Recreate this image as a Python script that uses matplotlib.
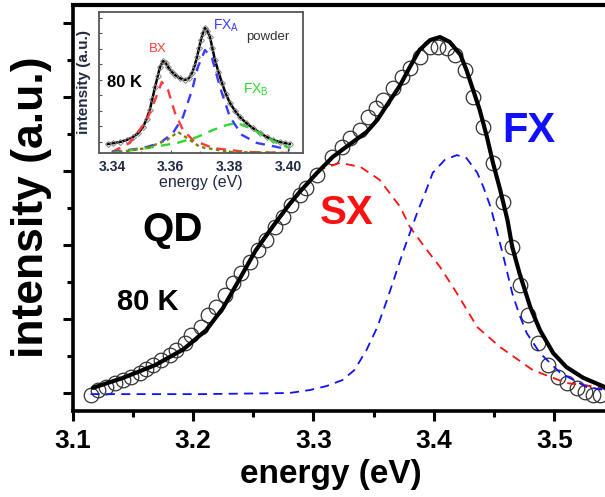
import matplotlib
matplotlib.use("Agg")
import matplotlib.pyplot as plt

plt.rcParams['font.family'] = ['Liberation Sans', 'DejaVu Sans']

# main spectrum (QD, 80 K) - energy in eV, intensity in arb. units
data_E = [3.1154, 3.1212, 3.1278, 3.1353, 3.1419, 3.1485, 3.1560, 3.1610, 3.1668, 3.1734,
          3.1809, 3.1859, 3.1934, 3.1983, 3.2066, 3.2124, 3.2191, 3.2266, 3.2332, 3.2398,
          3.2473, 3.2539, 3.2606, 3.2680, 3.2747, 3.2813, 3.2888, 3.2938, 3.3029, 3.3154,
          3.3237, 3.3303, 3.3386, 3.3452, 3.3519, 3.3577, 3.3660, 3.3734, 3.3801, 3.3884,
          3.3967, 3.4033, 3.4108, 3.4174, 3.4257, 3.4324, 3.4407, 3.4490, 3.4573, 3.4647,
          3.4714, 3.4780, 3.4863, 3.4946, 3.5029, 3.5104, 3.5187, 3.5253, 3.5320, 3.5378]
data_I = [-0.05, 0.08, 0.16, 0.27, 0.35, 0.43, 0.54, 0.65, 0.76, 0.89,
          1.03, 1.16, 1.35, 1.57, 1.78, 2.11, 2.32, 2.65, 2.97, 3.24,
          3.54, 3.87, 4.14, 4.49, 4.76, 5.08, 5.35, 5.54, 5.89, 6.38,
          6.65, 6.89, 7.11, 7.46, 7.70, 7.92, 8.24, 8.54, 8.78, 9.08,
          9.35, 9.35, 9.32, 9.14, 8.73, 8.00, 7.19, 6.22, 5.16, 3.95,
          2.92, 2.11, 1.35, 0.76, 0.43, 0.27, 0.14, 0.03, -0.05, -0.05]

fit_E = [3.117, 3.142, 3.169, 3.192, 3.211, 3.225, 3.239, 3.252, 3.266, 3.280,
         3.289, 3.303, 3.316, 3.330, 3.344, 3.353, 3.361, 3.372, 3.380, 3.388,
         3.397, 3.405, 3.413, 3.422, 3.427, 3.432, 3.438, 3.444, 3.449, 3.455,
         3.461, 3.465, 3.471, 3.480, 3.488, 3.499, 3.510, 3.524, 3.542]
fit_I = [0.14, 0.41, 0.76, 1.18, 1.70, 2.30, 3.10, 3.85, 4.49, 5.10,
         5.45, 5.95, 6.38, 6.72, 7.05, 7.38, 7.78, 8.32, 8.81, 9.27,
         9.54, 9.62, 9.49, 9.14, 8.73, 8.24, 7.65, 6.92, 6.22, 5.49,
         4.68, 3.95, 3.24, 2.32, 1.70, 1.08, 0.70, 0.41, 0.16]

sx_E = [3.117, 3.142, 3.169, 3.192, 3.211, 3.225, 3.239, 3.252, 3.266, 3.280,
        3.289, 3.305, 3.322, 3.339, 3.355, 3.372, 3.380, 3.394, 3.405, 3.419,
        3.436, 3.455, 3.482, 3.510, 3.542]
sx_I = [0.14, 0.41, 0.76, 1.16, 1.68, 2.30, 3.08, 3.81, 4.46, 5.05,
        5.43, 6.03, 6.22, 6.11, 5.76, 5.03, 4.49, 3.87, 3.41, 2.70,
        1.78, 1.24, 0.62, 0.27, 0.14]

fx_E = [3.115, 3.206, 3.280, 3.297, 3.311, 3.324, 3.334, 3.344, 3.353, 3.361,
        3.368, 3.374, 3.386, 3.393, 3.399, 3.409, 3.419, 3.427, 3.436, 3.441,
        3.447, 3.452, 3.457, 3.465, 3.471, 3.477, 3.488, 3.505, 3.527, 3.542]
fx_I = [-0.03, -0.03, 0.0, 0.08, 0.19, 0.35, 0.62, 1.16, 1.78, 2.51,
        3.19, 3.78, 4.86, 5.43, 5.95, 6.30, 6.43, 6.35, 5.95, 5.57,
        5.03, 4.41, 3.78, 2.70, 2.11, 1.62, 1.08, 0.54, 0.16, 0.08]

main_xticks = [3.1, 3.2, 3.3, 3.4, 3.5]
main_xticklabels = ['3.1', '3.2', '3.3', '3.4', '3.5']

# inset: powder, 80 K
in_E = [3.3386, 3.3405, 3.3427, 3.3450, 3.3472, 3.3490, 3.3506, 3.3518, 3.3529, 3.3538,
        3.3547, 3.3556, 3.3564, 3.3574, 3.3583, 3.3591, 3.3603, 3.3615, 3.3632, 3.3649,
        3.3662, 3.3673, 3.3682, 3.3690, 3.3697, 3.3703, 3.3710, 3.3717, 3.3725, 3.3734,
        3.3742, 3.3751, 3.3763, 3.3775, 3.3788, 3.3802, 3.3819, 3.3836, 3.3858, 3.3880,
        3.3904, 3.3928, 3.3950, 3.3972, 3.3990, 3.4006]
in_I = [0.064, 0.070, 0.078, 0.092, 0.113, 0.142, 0.184, 0.240, 0.305, 0.385,
        0.468, 0.545, 0.610, 0.652, 0.640, 0.610, 0.578, 0.553, 0.530, 0.518,
        0.530, 0.567, 0.620, 0.681, 0.745, 0.801, 0.850, 0.887, 0.865, 0.823,
        0.745, 0.660, 0.575, 0.496, 0.420, 0.355, 0.300, 0.255, 0.212, 0.177,
        0.142, 0.113, 0.092, 0.078, 0.070, 0.064]

bx_E = [3.3400, 3.3461, 3.3519, 3.3547, 3.3570, 3.3591, 3.3615, 3.3642, 3.3676, 3.3744, 3.3860, 3.4006]
bx_I = [0.007, 0.071, 0.234, 0.376, 0.504, 0.447, 0.284, 0.163, 0.092, 0.035, 0.007, 0.0]

fxa_E = [3.3400, 3.3506, 3.3564, 3.3608, 3.3642, 3.3673, 3.3693, 3.3717, 3.3741, 3.3768,
         3.3802, 3.3843, 3.3894, 3.3962, 3.4006]
fxa_I = [0.007, 0.035, 0.071, 0.142, 0.255, 0.447, 0.610, 0.730, 0.674, 0.468,
         0.255, 0.128, 0.071, 0.043, 0.021]

fxb_E = [3.3400, 3.3519, 3.3622, 3.3690, 3.3744, 3.3792, 3.3826, 3.3870, 3.3915, 3.3962, 3.4006]
fxb_I = [0.0, 0.035, 0.071, 0.113, 0.163, 0.199, 0.213, 0.177, 0.128, 0.071, 0.035]

ol_E = [3.3400, 3.3519, 3.3587, 3.3625, 3.3656, 3.3700, 3.3802, 3.4006]
ol_I = [0.0, 0.035, 0.092, 0.149, 0.106, 0.043, 0.007, 0.0]

inset_xticks = [3.34, 3.36, 3.38, 3.40]
inset_xticklabels = ['3.34', '3.36', '3.38', '3.40']

W, H = 605, 497
fig = plt.figure(figsize=(W / 100, H / 100), dpi=100)

ax = fig.add_axes([72.5 / W, (H - 411) / H, (W - 72.5) / W, 406 / H])
ax.plot(data_E, data_I, 'o', ms=10.5, mfc='none', mec='#333333', mew=0.9, zorder=2)
ax.plot(sx_E, sx_I, color='#ff1010', lw=1.3, ls=(0, (5, 3.5)), zorder=3)
ax.plot(fx_E, fx_I, color='#1010ff', lw=1.3, ls=(0, (5, 3.5)), zorder=3)
ax.plot(fit_E, fit_I, color='black', lw=3.0, zorder=4,
        solid_capstyle='round', solid_joinstyle='round')

ax.set_xlim(3.1, 3.542)
ax.set_ylim(-0.486, 10.486)
ax.set_xticks(main_xticks)
ax.set_xticklabels(main_xticklabels)
ax.set_xticks([3.15, 3.25, 3.35, 3.45], minor=True)
ax.set_yticks([0, 2, 4, 6, 8, 10])
ax.set_yticks([1, 3, 5, 7, 9], minor=True)
ax.set_yticklabels([])
ax.tick_params(which='major', direction='out', length=7, width=2.2, labelsize=19, pad=6)
ax.tick_params(which='minor', direction='out', length=4, width=2.2)
for lab in ax.get_xticklabels():
    lab.set_fontweight('bold')
ax.spines['right'].set_visible(False)
ax.spines['left'].set_linewidth(2.6)
ax.spines['bottom'].set_linewidth(2.6)
ax.spines['top'].set_linewidth(3.0)

fig.text(331 / W, 1 - 474 / H, 'energy (eV)', fontsize=24, fontweight='bold',
         ha='center', va='center')
fig.text(32 / W, 1 - 207 / H, 'intensity (a.u.)', fontsize=32, fontweight='bold',
         ha='center', va='center', rotation=90)

ax.text(3.1834, 4.40, 'QD', fontsize=29, fontweight='bold', ha='center', va='center')
ax.text(3.1627, 2.46, '80 K', fontsize=21, fontweight='bold', ha='center', va='center')
ax.text(3.3278, 4.86, 'SX', fontsize=29, fontweight='bold', color='#ff1010', ha='center', va='center')
ax.text(3.4788, 7.08, 'FX', fontsize=30, fontweight='bold', color='#1010ff', ha='center', va='center')

# inset
ins = fig.add_axes([99 / W, (H - 153) / H, 204 / W, 141 / H], zorder=5)
ins.plot(in_E, in_I, color='black', lw=1.8, marker='D', ms=3, mfc='none', mec='#888888', mew=0.7)
ins.plot(bx_E, bx_I, color='#ff3b3b', lw=1.7, ls=(0, (4, 3)))
ins.plot(fxa_E, fxa_I, color='#3a3aff', lw=1.7, ls=(0, (4, 3)))
ins.plot(fxb_E, fxb_I, color='#2fd82f', lw=1.7, ls=(0, (4, 3)))
ins.plot(ol_E, ol_I, color='#808000', lw=1.7, ls=(0, (1.5, 1.5)))
ins.set_xlim(3.3356, 3.4051)
ins.set_ylim(0, 1)
ins.set_xticks(inset_xticks)
ins.set_xticklabels(inset_xticklabels)
ins.set_xticks([3.35, 3.37, 3.39], minor=True)
ins.set_yticks([0.08, 0.19, 0.30, 0.41, 0.52, 0.63, 0.74, 0.85, 0.96])
ins.set_yticklabels([])
ins.tick_params(direction='in', length=2.5, width=0.8, color='#555555',
                labelsize=10, labelcolor='#1f2a44', pad=5)
ins.tick_params(which='minor', direction='in', length=1.5, width=0.8, color='#555555')
for lab in ins.get_xticklabels():
    lab.set_fontweight('bold')
for s in ins.spines.values():
    s.set_linewidth(1.3)
    s.set_color('#555555')
ins.set_xlabel('energy (eV)', fontsize=11.5, color='#1f2a44', labelpad=1)
ins.set_ylabel('intensity (a.u.)', fontsize=11, fontweight='bold', color='#1f2a44', labelpad=1)

ins.text(3.3444, 0.50, '80 K', fontsize=12, fontweight='bold', ha='center', va='center')
ins.text(3.3557, 0.74, 'BX', fontsize=9.5, color='#ff3b3b', ha='center', va='center')
ins.text(3.3790, 0.90, r'FX$_\mathregular{A}$', fontsize=10, color='#3a3aff', ha='center', va='center')
ins.text(3.3931, 0.82, 'powder', fontsize=9.5, color='#333333', ha='center', va='center')
ins.text(3.3891, 0.45, r'FX$_\mathregular{B}$', fontsize=10, color='#2fd82f', ha='center', va='center')

fig.savefig('out.png', dpi=100)
